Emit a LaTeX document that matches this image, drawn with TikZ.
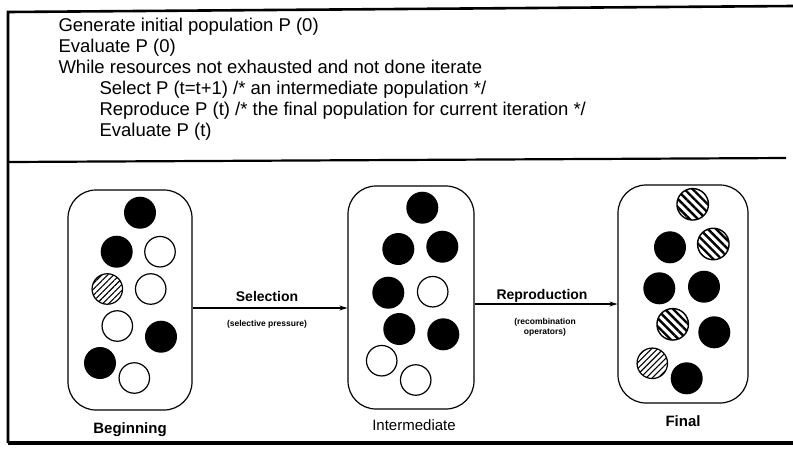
\documentclass[tikz,border=0pt]{standalone}
\usepackage{fontspec}
\setmainfont{Liberation Sans}
\usetikzlibrary{arrows.meta,patterns.meta}
\begin{document}
\begin{tikzpicture}[x=1pt,y=-1pt,
  popbox/.style={draw,line width=1.2pt,rounded corners=28pt,inner sep=0pt},
  blk/.style={circle,fill=black,minimum size=32pt,inner sep=0pt},
  wht/.style={circle,draw,line width=1.2pt,minimum size=30.5pt,inner sep=0pt},
  hne/.style={circle,draw,line width=1.2pt,minimum size=30.5pt,inner sep=0pt,
    pattern={Lines[angle=45,distance=4.2pt,line width=1.1pt]}},
  hnw/.style={circle,draw,line width=1.4pt,minimum size=31.5pt,inner sep=0pt,
    pattern={Lines[angle=-45,distance=5.8pt,line width=2.4pt]}},
  code/.style={anchor=base west,font=\fontsize{18.5}{21}\selectfont},
  arrlab/.style={anchor=base,font=\bfseries\fontsize{14}{16}\selectfont},
  sublab/.style={anchor=base,font=\bfseries\fontsize{8.5}{10}\selectfont,align=center},
  caplab/.style={anchor=base,font=\fontsize{15}{18}\selectfont},
  caplabb/.style={anchor=base,font=\bfseries\fontsize{15}{18}\selectfont},
  frame/.style={line width=2.6pt},
  arr/.style={line width=1.1pt,-{Stealth[length=8pt,width=5pt]}}
]
\useasboundingbox (0,0) rectangle (793,448);
% frame
\coordinate (ftl) at (8,12);
\coordinate (ftr) at (793,6);
\coordinate (fbl) at (8,443);
\coordinate (fbr) at (793,443);
\coordinate (sl) at (8,162);
\coordinate (sr) at (786,158);
\draw[frame] (ftr) -- (ftl) -- (fbl);
\draw[line width=4pt] (fbl) -- (fbr);
\draw[line width=2.2pt] (sl) -- (sr);
% pseudo-code
\node[code] (l1) at (55,31) {Generate initial population P (0)};
\node[code] (l2) at (55,52) {Evaluate P (0)};
\node[code] (l3) at (55,73) {While resources not exhausted and not done iterate};
\node[code] (l4) at (96,94) {Select P (t=t+1) /* an intermediate population */};
\node[code] (l5) at (96,115) {Reproduce P (t) /* the final population for current iteration */};
\node[code] (l6) at (96,136) {Evaluate P (t)};
% population boxes
\node[popbox,minimum width=124pt,minimum height=220pt] (beg) at (130,300) {};
\node[popbox,minimum width=126pt,minimum height=223pt] (int) at (411,297.5) {};
\node[popbox,minimum width=130pt,minimum height=218pt] (fin) at (683,294) {};
% beginning
\node[blk] (b1) at (140,212.7) {};
\node[blk] (b2) at (116.7,251.7) {};
\node[wht] (b3) at (160,251.7) {};
\node[hne] (b4) at (107.3,289) {};
\node[wht] (b5) at (150.7,289) {};
\node[wht] (b6) at (117.3,326) {};
\node[blk] (b7) at (161,336.7) {};
\node[blk] (b8) at (100,363) {};
\node[wht] (b9) at (134.3,378) {};
% intermediate
\node[blk] (i1) at (422.3,207.7) {};
\node[blk] (i2) at (398.3,249) {};
\node[blk] (i3) at (442.3,246.7) {};
\node[blk] (i4) at (388.3,292.7) {};
\node[wht] (i5) at (432.7,291.7) {};
\node[blk] (i6) at (399.3,329) {};
\node[blk] (i7) at (443.3,334.3) {};
\node[wht] (i8) at (381.7,360.7) {};
\node[wht] (i9) at (415.7,380) {};
% final
\node[hnw] (f1) at (692.7,204.3) {};
\node[blk] (f2) at (670,247.3) {};
\node[hnw] (f3) at (713.3,244) {};
\node[blk] (f4) at (659.3,288.3) {};
\node[blk] (f5) at (704,286.7) {};
\node[hnw] (f6) at (672.7,324.3) {};
\node[blk] (f7) at (714.3,332.3) {};
\node[hne] (f8) at (652.3,363.3) {};
\node[blk] (f9) at (686.7,378.3) {};
% arrows
\coordinate (ya) at (0,308);
\coordinate (yb) at (0,304);
\draw[arr] (beg.east |- ya) -- (int.west |- ya);
\draw[arr] (int.east |- yb) -- (fin.west |- yb);
\node[arrlab] (sel) at (267,301) {Selection};
\node[sublab] (selp) at (267,326) {(selective pressure)};
\node[arrlab] (rep) at (542,299) {Reproduction};
\node[sublab,anchor=north] (repo) at (545,315) {(recombination\\operators)};
% captions
\node[caplabb] (cb) at (130,433) {Beginning};
\node[caplab] (ci) at (414,430) {Intermediate};
\node[caplabb] (cf) at (683,426) {Final};
\end{tikzpicture}
\end{document}
